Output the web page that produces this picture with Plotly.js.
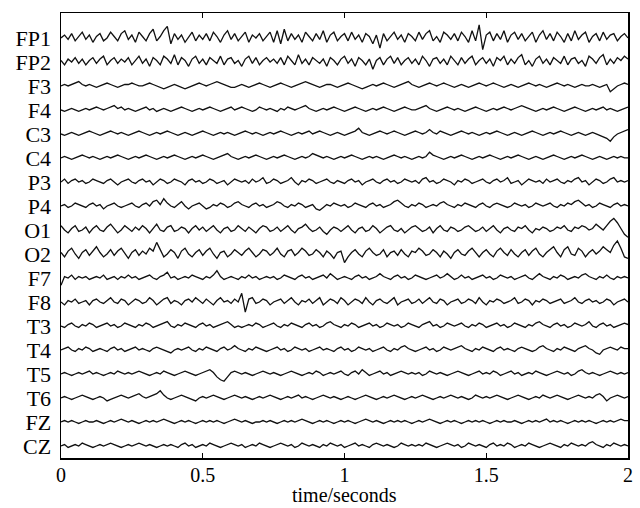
<!DOCTYPE html>
<html>
<head>
<meta charset="utf-8">
<script src="https://cdn.plot.ly/plotly-3.0.1.min.js"></script>
<style>html,body{margin:0;padding:0;background:#fff;}#chart{width:640px;height:508px;}</style>
</head>
<body>
<div id="chart"></div>
<script>
// channel names (top to bottom)
const channels = ["FP1","FP2","F3","F4","C3","C4","P3","P4","O1","O2","F7","F8","T3","T4","T5","T6","FZ","CZ"];
// sampling: 80 samples per second over 2 s (161 samples)
const sampleRate = 80;
const xTicks = [0, 0.5, 1, 1.5, 2];
const xTickLabels = ["0", "0.5", "1", "1.5", "2"];
const xTitle = "time/seconds";

// amplitudes (arbitrary units)
const FP1 = [0,2,-1,3,-2,1,4,-1,2,-3,1,3,-2,0,4,1,-2,3,5,-1,
 2,-3,4,1,-2,3,6,-2,1,5,8,-4,3,-1,2,-3,1,4,-2,2,
 -1,3,-2,4,1,-3,2,5,-1,3,-2,1,4,-3,2,0,3,-2,1,4,
 -3,5,-4,6,-2,3,-1,2,-3,4,1,-2,3,-1,5,-3,2,4,-2,1,
 3,-2,4,-1,2,-3,3,1,-4,2,-7,3,-2,1,4,-1,2,-3,3,1,
 -2,4,-1,3,5,-2,1,-3,4,2,-1,3,-2,4,1,-3,5,-2,9,-8,
 2,4,-2,3,-1,5,-3,2,4,-1,3,-2,1,4,-3,2,5,-1,3,-2,
 4,1,-3,3,-2,5,-1,2,4,-3,1,3,-2,4,-1,2,3,-2,1,3,0];
const FP2 = [1,-2,2,0,3,-1,2,-2,1,3,-1,2,4,-2,1,3,-1,2,0,3,
 -2,1,4,-1,2,-3,3,1,-2,4,2,-1,5,-2,3,1,-3,2,4,-1,
 2,-2,3,1,-1,4,-2,2,3,-1,1,-3,2,4,-1,3,-2,1,3,0,
 2,-1,3,-2,4,1,-2,5,-1,2,-2,3,1,-1,2,-3,3,1,-2,2,
 4,-1,2,-3,3,1,-2,2,-5,1,3,-2,2,4,-1,3,-2,1,3,-1,
 2,-2,4,1,-3,2,3,-1,2,-2,4,1,-2,3,-1,2,4,-2,1,3,
 -1,2,-3,3,1,4,-2,2,-1,3,5,-2,1,-3,2,4,-1,2,-2,3,
 1,-1,4,-2,2,3,-1,1,-3,4,2,-1,3,5,-2,2,-1,3,1,4,2];
const F3 = [0,1,0,1,2,3,1,0,1,0,-1,0,1,2,1,0,-1,0,1,1,
 2,1,0,0,1,2,1,0,-1,-2,-1,0,1,0,-1,-2,-1,0,1,2,
 1,0,1,2,3,2,1,0,-1,-1,0,1,0,-1,0,1,2,1,0,-1,
 0,1,2,1,0,-1,0,1,2,3,2,1,0,-1,0,1,1,0,-1,0,
 1,2,1,0,-1,-2,-1,0,1,0,1,2,1,0,-1,0,1,2,3,1,
 0,-1,0,1,2,1,0,1,2,1,0,-1,0,1,0,-1,0,1,2,1,
 0,1,2,1,0,-1,0,1,0,-1,0,1,2,1,0,1,0,-1,0,1,
 2,1,0,1,0,-1,0,1,0,0,1,0,-1,0,1,-4,-2,0,1,2,1];
const F4 = [0,-1,0,1,0,-1,0,1,0,1,2,1,0,1,2,3,1,2,0,1,
 0,-1,0,1,2,0,1,-1,0,1,0,-1,0,1,2,1,0,-1,0,1,
 0,1,2,1,0,-1,0,1,2,0,1,2,1,0,-1,0,2,1,0,1,
 0,-1,1,0,2,1,0,1,2,3,1,0,-1,0,1,0,1,2,1,0,
 -1,0,1,2,1,0,-1,0,1,0,1,2,1,0,-1,0,1,2,1,0,
 0,1,2,3,1,0,-1,0,1,2,1,0,1,0,-1,0,1,2,1,0,
 -1,0,1,0,1,2,1,0,1,2,3,2,1,0,-1,0,1,0,1,2,
 1,0,-1,0,1,2,1,0,-1,0,1,0,1,2,0,1,0,-1,0,1,2];
const C3 = [0,-1,0,1,0,-1,0,1,2,1,0,-1,0,1,2,1,0,1,0,-1,
 0,1,2,1,0,-1,0,1,0,1,2,1,0,-1,0,1,0,-1,0,1,
 2,1,0,-1,0,1,0,1,0,-1,0,1,2,1,0,1,0,-1,0,1,
 0,1,2,1,0,-1,0,1,0,1,2,0,1,2,1,0,-1,0,1,0,
 -1,0,1,2,4,1,0,-1,0,1,2,1,0,1,2,1,0,-1,0,1,
 2,1,0,1,3,1,0,2,1,0,-1,0,1,2,1,0,1,0,-1,0,
 1,0,1,2,1,0,-1,0,1,0,-1,0,1,2,1,0,-1,0,1,0,
 1,2,1,0,-1,0,1,0,-1,0,1,0,-1,-2,-3,-5,-2,0,1,2,3];
const C4 = [0,1,0,-1,0,1,2,1,0,1,0,-1,0,1,0,1,2,1,0,-1,
 0,1,0,1,2,1,0,-1,0,1,0,1,2,1,0,-1,0,1,0,1,
 2,1,0,-1,0,1,2,3,1,0,-1,0,1,0,1,2,1,0,-1,0,
 1,0,1,2,1,0,-1,0,1,0,1,3,2,1,0,1,0,-1,0,1,
 0,1,2,1,0,-1,0,1,0,1,0,-1,0,1,2,1,0,1,0,-1,
 0,1,0,1,4,2,1,0,-1,0,1,0,1,2,1,0,-1,0,1,0,
 1,2,1,0,-1,0,1,0,1,2,1,0,-1,0,1,0,-1,0,1,2,
 1,0,-1,0,1,0,1,2,1,0,-1,0,1,0,-1,0,1,0,1,0,0];
const P3 = [0,2,-1,1,2,0,1,-1,0,2,1,0,-1,1,2,0,-2,0,1,2,
 0,-1,1,2,0,1,-2,0,2,1,-1,0,2,1,0,-2,1,2,0,1,
 -1,0,2,1,-1,0,1,-2,0,2,1,0,1,-1,2,0,1,3,-1,0,
 2,1,-1,0,1,3,0,-2,1,0,2,1,-1,0,1,2,0,-1,1,0,
 -1,1,2,0,1,-2,0,1,2,0,-1,1,2,0,1,-1,0,2,1,0,
 1,-1,2,3,0,1,-1,0,2,1,0,-2,1,0,2,1,-1,0,1,2,
 0,-1,1,2,0,1,3,-1,0,1,-2,0,2,1,0,1,-1,2,0,1,
 2,0,-1,1,0,2,3,0,1,-2,0,2,1,-1,0,2,3,0,1,0,1];
const P4 = [0,1,-1,0,2,1,0,-1,1,2,0,1,-2,0,1,2,0,-1,0,1,
 2,0,-1,1,2,0,3,4,1,5,2,0,-1,1,3,0,-2,0,1,2,
 0,-2,-1,1,0,2,1,-1,0,2,3,1,0,-1,1,2,0,1,-1,0,
 1,3,2,0,-1,1,0,2,1,-1,0,1,-2,-3,-1,1,0,2,1,0,
 1,-1,0,2,1,0,-1,1,2,0,1,-1,0,1,3,4,2,0,-1,1,
 0,2,1,-1,0,1,0,2,3,1,0,-1,1,0,2,1,0,-1,1,2,
 0,-1,1,2,1,0,-1,0,2,1,0,1,-1,0,2,1,0,1,2,0,
 -1,1,0,2,1,3,4,2,0,1,-1,0,2,1,0,-1,1,2,0,1,0];
const O1 = [3,0,-2,1,3,-1,0,2,-2,1,3,0,-1,2,4,1,-2,0,3,1,
 -1,2,0,3,1,-2,1,4,0,-1,2,3,-1,0,2,1,-2,1,3,0,
 2,-1,1,3,0,-2,1,2,-1,0,3,1,-1,2,0,-2,1,3,2,-1,
 0,2,-1,1,3,0,-2,1,2,4,1,-1,0,2,-1,-3,0,2,1,-1,
 1,3,0,-2,1,2,-1,0,3,1,-2,0,2,3,0,-1,1,-2,0,2,
 3,1,-1,0,2,-2,1,3,0,-1,2,1,-1,0,2,3,1,-1,0,2,
 -1,1,3,0,-2,1,2,0,-1,2,1,3,0,-2,1,0,2,1,-1,0,
 2,1,3,0,-1,2,1,3,2,0,1,4,2,0,3,6,8,5,1,-3,-5];
const O2 = [1,-2,2,4,0,-3,1,3,-1,2,5,1,-2,0,3,-1,2,4,0,-3,
 1,3,-1,2,0,4,2,8,3,-2,0,3,1,-3,2,4,0,-2,1,3,
 -1,2,4,0,-3,1,2,-2,0,3,1,-1,2,4,1,-2,0,3,2,-1,
 1,4,0,-2,2,3,-1,1,4,2,-1,0,3,1,-2,2,0,-3,1,2,
 -6,-2,1,3,0,-2,2,4,1,-1,0,3,-2,1,2,-1,3,0,-2,2,
 1,4,2,-1,0,3,1,-2,2,0,-3,1,3,0,-1,2,4,1,-2,1,
 3,0,-2,2,4,1,-1,3,0,-2,1,3,-1,2,4,0,-2,1,3,5,
 1,-2,3,5,0,-1,4,2,-2,1,3,0,2,5,3,1,6,9,4,-2,-3];
const F7 = [-5,1,0,2,-1,1,0,1,-1,0,1,0,2,-1,0,1,-1,1,0,2,
 0,1,-1,0,1,2,0,-1,1,2,4,0,1,-1,0,1,0,2,1,0,
 -1,1,0,2,5,1,-1,0,1,0,-1,1,0,2,0,1,-1,0,1,0,
 1,-1,0,2,1,0,-1,1,2,0,1,-1,0,1,2,0,3,1,-1,0,
 1,0,-1,1,2,0,1,-1,0,1,3,1,0,-1,1,2,0,1,-1,0,
 2,1,0,-1,0,1,2,0,1,3,1,-1,0,2,0,1,-1,0,1,2,
 0,1,-1,0,2,1,0,1,-1,0,1,2,0,-1,1,3,1,0,-1,1,
 0,2,1,-1,0,1,0,2,3,1,0,-1,1,0,2,0,-1,1,0,1,0];
const F8 = [0,-2,1,0,2,-1,0,1,-2,1,2,0,-1,1,3,0,-1,2,1,-2,
 0,2,1,-1,0,3,1,-2,0,2,3,-1,1,0,-2,1,2,0,3,1,
 -1,2,0,-2,1,3,0,1,-1,2,0,6,-7,2,3,-1,0,2,1,-2,
 0,1,2,-1,1,3,0,-2,1,0,2,-1,1,3,-2,0,2,1,-1,3,
 1,-2,0,2,1,-1,3,0,-2,1,2,0,-1,1,3,-2,0,1,2,-1,
 0,2,-1,1,3,0,-1,2,1,-2,0,1,2,-1,0,2,1,-1,3,0,
 -2,1,0,2,1,-1,0,1,3,-1,0,2,1,-2,1,0,2,1,-1,0,
 1,2,-1,0,1,3,0,-1,1,2,0,1,-1,0,2,1,-2,0,1,2,0];
const T3 = [0,-1,1,2,0,-1,1,0,2,1,-1,0,1,2,0,1,-1,0,2,1,
 0,-1,1,0,2,1,-1,0,1,2,3,0,-1,1,0,2,1,0,-1,1,
 2,0,1,-1,0,1,2,3,1,-1,0,-1,0,1,0,2,1,-1,0,1,
 2,0,-1,1,0,2,1,0,-1,1,2,0,1,-1,0,2,3,1,0,-1,
 1,0,2,1,-1,0,1,2,0,1,-1,0,2,1,0,1,-1,0,2,1,
 0,-1,1,2,3,0,1,-1,0,2,1,0,1,2,0,-1,1,0,2,1,
 -1,0,1,2,0,1,-1,0,2,1,0,-1,1,0,2,3,1,0,-1,1,
 2,0,1,-1,0,2,1,0,1,3,0,-1,1,2,0,1,-1,0,1,2,1];
const T4 = [0,1,2,0,-1,1,0,2,1,-1,0,1,0,-1,1,2,0,1,-1,0,
 1,2,0,1,0,-1,1,2,1,0,-1,-2,0,1,0,1,2,0,-1,1,
 0,2,1,0,-1,1,2,0,1,3,1,0,-1,1,0,2,1,0,-1,0,
 1,2,0,1,-1,0,2,1,0,1,-1,0,1,2,0,1,0,-1,1,2,
 0,1,-1,0,2,1,0,1,-1,0,1,2,0,-1,1,0,2,3,1,0,
 -1,0,1,2,0,1,-1,0,2,1,0,1,2,3,1,0,-1,1,0,2,
 1,0,-1,1,2,0,1,0,-1,1,2,1,0,-1,0,2,3,1,0,-1,
 1,0,2,1,0,-1,1,2,3,1,0,-2,-3,0,1,2,1,0,2,1,1];
const T5 = [0,1,0,-1,0,1,0,1,2,0,1,0,-1,0,1,0,2,1,0,1,
 0,1,2,1,0,-1,0,1,0,2,1,0,-1,0,1,2,1,0,-1,0,
 1,2,3,1,-2,-4,-5,-2,1,2,1,0,1,0,-1,0,1,2,1,0,
 1,0,-1,0,1,2,1,0,-1,0,1,0,2,1,-1,0,1,0,1,2,
 0,-1,1,2,0,3,1,-1,0,1,2,0,1,-1,0,1,2,1,0,1,
 0,1,-1,0,2,1,0,1,0,-1,0,1,2,1,0,-1,0,1,2,0,
 1,0,2,1,-1,0,1,2,0,1,-1,0,1,0,2,1,0,-1,0,1,
 2,1,0,1,-1,0,2,3,1,0,1,0,-1,0,1,2,1,0,1,0,1];
const T6 = [0,1,0,-1,0,1,2,1,0,-1,0,1,0,-2,-1,0,1,2,1,0,
 1,2,3,1,0,1,2,3,5,2,0,-1,0,1,2,1,0,-1,-2,0,
 1,0,1,2,1,0,-1,0,1,2,1,0,1,0,-1,0,1,0,1,2,
 1,0,-1,0,1,0,1,2,0,1,0,-1,0,1,2,1,0,1,0,-1,
 0,1,0,-1,0,1,2,1,0,-1,0,1,0,1,2,1,0,-1,0,1,
 0,1,2,1,0,-1,0,1,0,1,2,1,0,1,0,-1,0,2,1,0,
 1,0,1,2,1,0,-1,0,1,2,1,0,-1,0,1,0,2,1,0,1,
 2,1,0,-1,0,1,2,1,0,1,0,2,3,1,-2,0,1,2,1,0,1];
const FZ = [0,1,0,1,0,-1,0,1,0,0,1,0,-1,0,1,0,1,2,1,0,
 1,0,-1,0,1,0,1,0,1,2,1,0,-1,0,1,0,1,0,-1,0,
 1,0,1,0,1,0,-1,0,1,2,1,0,1,0,-1,0,0,1,0,1,
 0,-1,0,1,0,1,0,1,2,1,0,-1,0,1,0,1,0,-1,0,1,
 0,1,0,-1,0,1,2,1,0,1,0,-1,0,1,0,1,0,1,0,-1,
 0,1,0,1,2,1,0,-1,0,1,0,1,0,-1,0,1,0,1,0,1,
 0,-1,0,1,0,1,0,0,1,0,-1,0,1,0,1,0,1,2,0,1,
 0,1,0,-1,0,1,0,1,0,1,0,-1,0,1,0,1,0,1,2,1,1];
const CZ = [0,1,-1,0,1,0,2,1,0,-1,0,1,0,1,2,1,0,-1,0,1,
 0,1,2,1,0,1,0,-1,0,1,0,1,0,-1,1,2,0,1,-1,0,
 1,0,2,1,0,-1,0,1,2,1,0,1,-1,0,1,0,2,1,0,-1,
 0,1,2,1,0,1,-1,0,2,1,0,1,0,-1,1,0,2,1,0,1,
 -1,0,1,2,0,1,0,-1,1,2,1,0,1,0,-1,0,2,1,0,1,
 0,1,0,2,1,0,-1,0,1,2,1,0,1,-1,0,2,1,0,1,0,
 -1,1,2,0,1,0,2,1,-1,0,1,0,2,1,0,-1,0,1,2,1,
 0,-1,1,0,2,1,0,1,0,2,3,1,0,-1,1,0,2,1,0,1,0];

const seriesList = [FP1,FP2,F3,F4,C3,C4,P3,P4,O1,O2,F7,F8,T3,T4,T5,T6,FZ,CZ];

const gain = 1.45/24; // amplitude units per channel spacing
const n = channels.length;
const traces = seriesList.map((vals, k) => {
  const offset = n - k;
  return {
    type: 'scatter', mode: 'lines',
    x: vals.map((_, i) => i / sampleRate),
    y: vals.map(v => offset + v * gain),
    line: {color: '#111', width: 1.3},
    hoverinfo: 'skip', showlegend: false
  };
});

const fam = '"Liberation Serif", "Times New Roman", serif';
const font = {family: fam, color: '#000', size: 22};

const layout = {
  width: 640, height: 508,
  margin: {l: 61, r: 12, t: 13, b: 50, pad: 0},
  paper_bgcolor: '#fff', plot_bgcolor: '#fff',
  font: font,
  showlegend: false,
  xaxis: {
    range: [0, 2], tickvals: xTicks, ticktext: xTickLabels,
    ticks: 'inside', ticklen: 5, tickcolor: '#000', tickwidth: 1,
    showline: true, linecolor: '#000', linewidth: 1.5, mirror: 'ticks',
    showgrid: false, zeroline: false, ticklabelstandoff: -2,
    tickfont: {family: fam, color: '#000', size: 20}
  },
  yaxis: {
    range: [0.5, 19.04],
    tickvals: channels.map((_, k) => n - k), ticktext: channels,
    ticks: '', showline: true, linecolor: '#000', linewidth: 1.5, mirror: true,
    showgrid: false, zeroline: false, ticklabelstandoff: 4,
    tickfont: font
  },
  annotations: [{
    text: xTitle, xref: 'paper', yref: 'paper', x: 0.5, y: -0.083,
    xanchor: 'center', yanchor: 'middle', showarrow: false,
    font: {family: fam, color: '#000', size: 20}
  }]
};

Plotly.newPlot('chart', traces, layout, {staticPlot: true, displayModeBar: false});
</script>
</body>
</html>
